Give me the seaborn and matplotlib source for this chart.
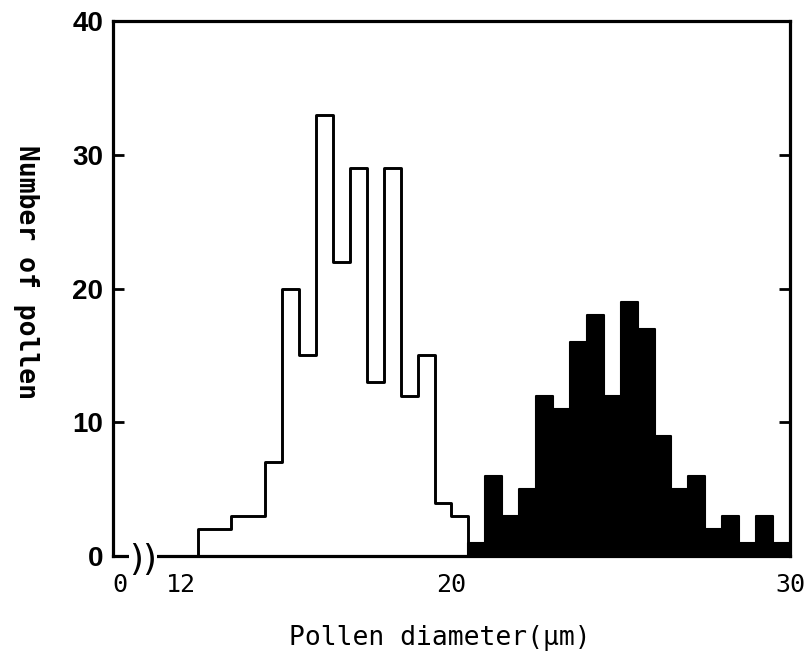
import numpy as np
import pandas as pd
import seaborn as sns
import matplotlib.pyplot as plt

# bin centres (um) and pollen counts
small_diam = [12.75, 13.25, 13.75, 14.25, 14.75, 15.25, 15.75, 16.25,
              16.75, 17.25, 17.75, 18.25, 18.75, 19.25, 19.75, 20.25]
small_count = [2, 2, 3, 3, 7, 20, 15, 33, 22, 29, 13, 29, 12, 15, 4, 3]

large_diam = [20.75, 21.25, 21.75, 22.25, 22.75, 23.25, 23.75, 24.25, 24.75,
              25.25, 25.75, 26.25, 26.75, 27.25, 27.75, 28.25, 28.75, 29.25, 29.75]
large_count = [1, 6, 3, 5, 12, 11, 16, 18, 12, 19, 17, 9, 5, 6, 2, 3, 1, 3, 1]

x_ticks = [10.2, 12, 20, 30]
x_ticklabels = ["0", "12", "20", "30"]
y_ticks = [0, 10, 20, 30, 40]

sns.set_style("ticks")
plt.rcParams["font.family"] = ["DejaVu Sans"]
plt.rcParams["text.color"] = "black"
plt.rcParams["xtick.color"] = "black"
plt.rcParams["ytick.color"] = "black"
plt.rcParams["axes.labelcolor"] = "black"

small = pd.DataFrame({"diam": small_diam, "n": small_count})
large = pd.DataFrame({"diam": large_diam, "n": large_count})

fig = plt.figure(figsize=(8.11, 6.59), dpi=100)
ax = fig.add_axes([0.1393, 0.1563, 0.974 - 0.1393, 0.968 - 0.1563])

sns.histplot(data=small, x="diam", weights="n", binwidth=0.5, binrange=(12.5, 20.5),
             element="step", fill=True, facecolor="white", edgecolor="black",
             linewidth=2.1, alpha=1, ax=ax)
sns.histplot(data=large, x="diam", weights="n", binwidth=0.5, binrange=(20.5, 30),
             element="step", fill=True, facecolor="black", edgecolor="black",
             linewidth=1.5, alpha=1, ax=ax)

ax.set_xlim(10, 30)
ax.set_ylim(0, 40)

for s in ax.spines.values():
    s.set_visible(True)
    s.set_linewidth(2.3)
    s.set_color("black")

ax.set_xticks(x_ticks)
ax.set_xticklabels(x_ticklabels, family="DejaVu Sans Mono", fontsize=18)
ax.tick_params(axis="x", length=0, pad=12)
ax.set_yticks(y_ticks)
ax.set_yticklabels([str(v) for v in y_ticks], family="Liberation Sans",
                   fontweight="bold", fontsize=20)
ax.tick_params(axis="y", direction="in", length=8, width=2, pad=7,
               left=True, right=True, labelright=False)

# axis break mark
ax.text(10.9, -0.3, "))", fontsize=26, ha="center", va="center",
        family="DejaVu Sans", clip_on=False, zorder=10,
        bbox=dict(fc="white", ec="none", pad=0))

ax.set_xlabel("Pollen diameter(µm)", family="DejaVu Sans Mono", fontsize=19,
              va="center", ha="center")
ax.xaxis.set_label_coords(0.483, -0.153)
ax.set_ylabel("Number of pollen", family="DejaVu Sans Mono", fontweight="bold",
              fontsize=19, rotation=-90, va="center", ha="center")
ax.yaxis.set_label_coords(-0.128, 0.53)

fig.savefig("out.png", dpi=100)
